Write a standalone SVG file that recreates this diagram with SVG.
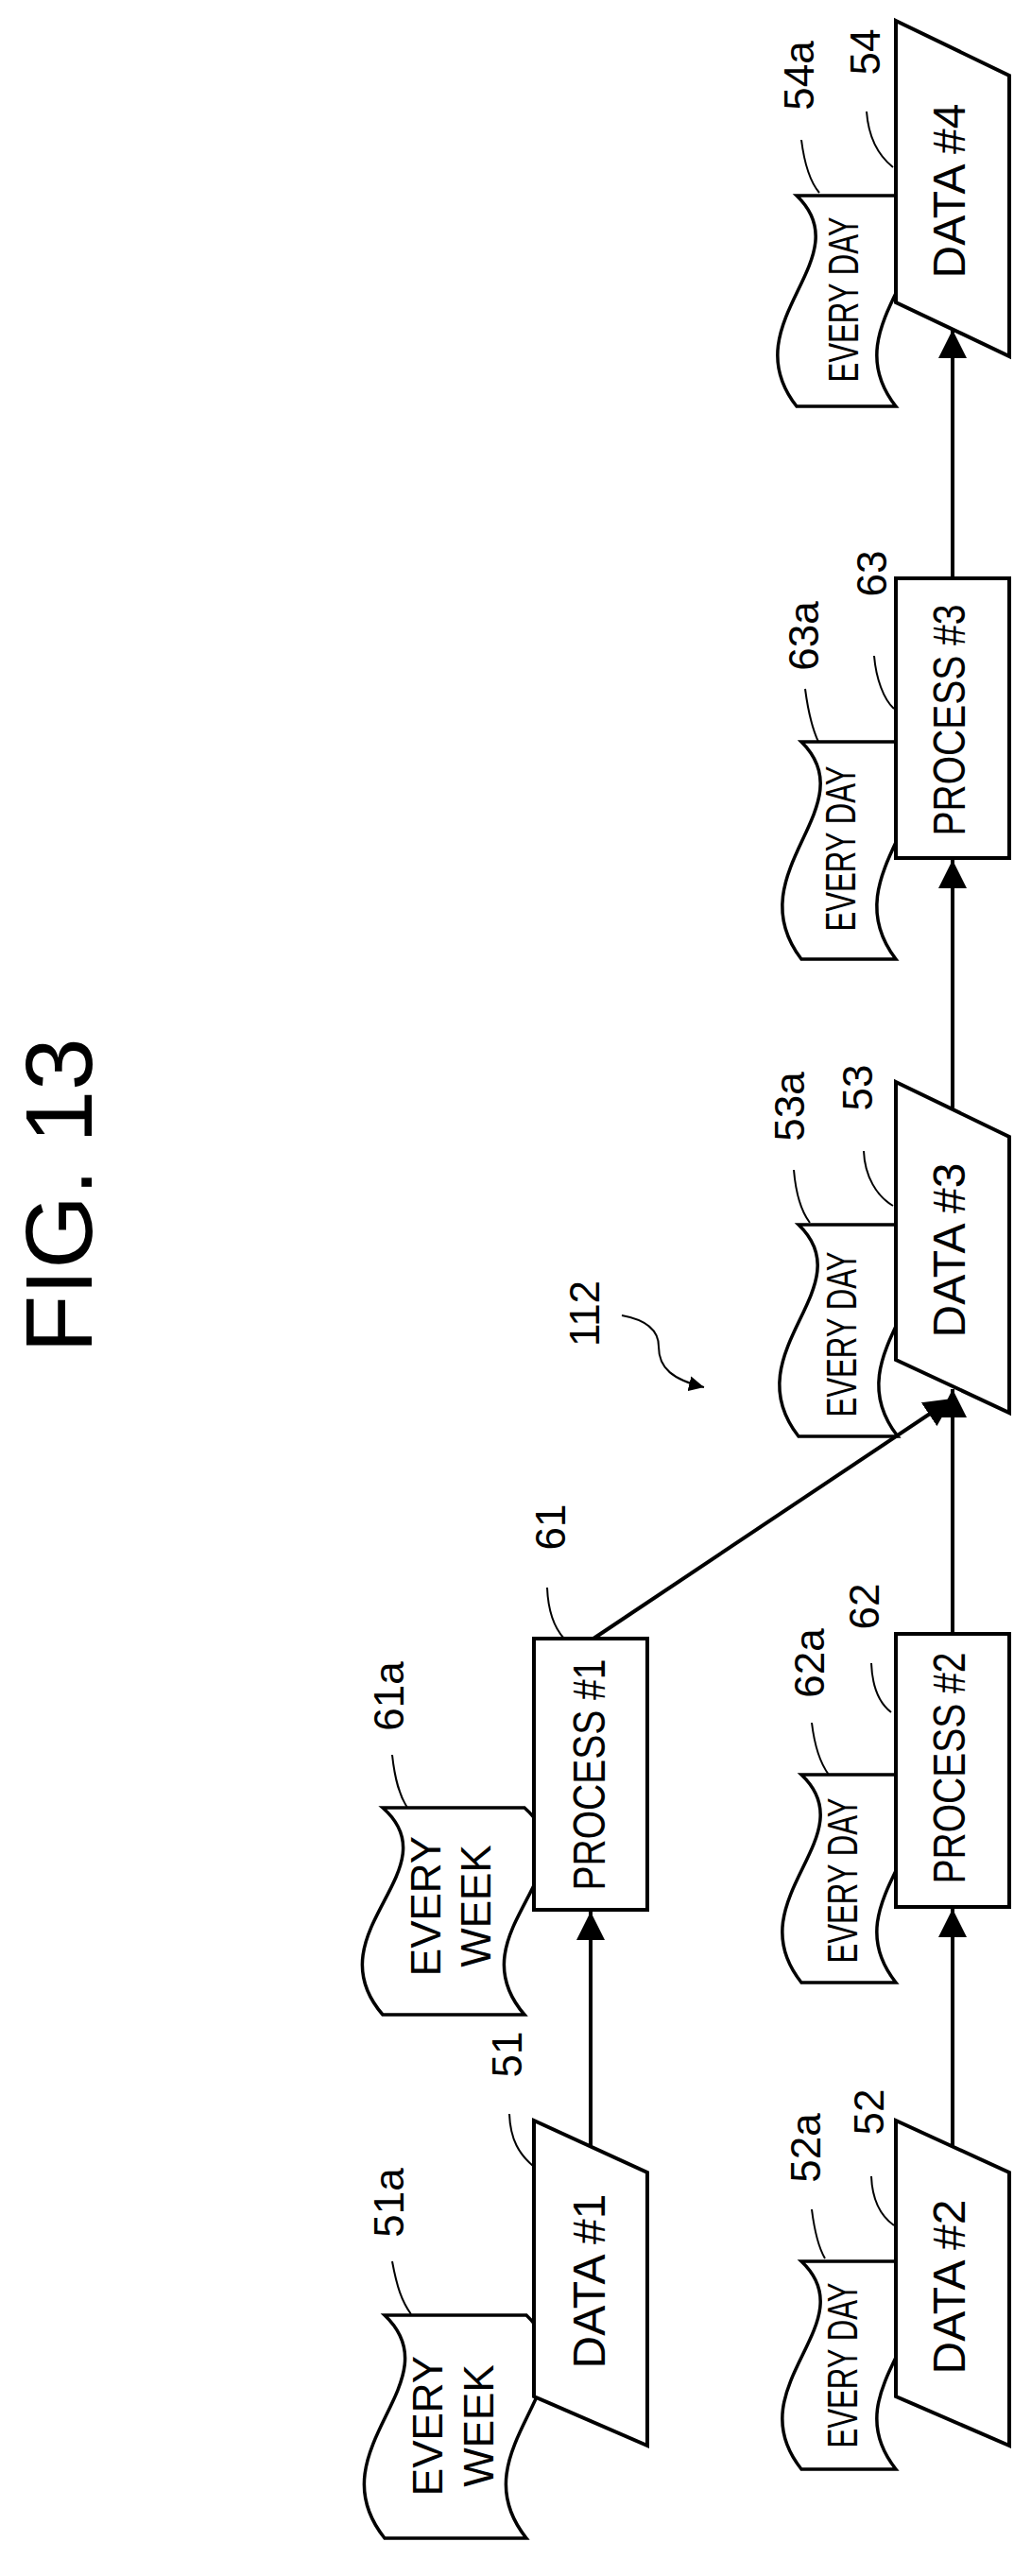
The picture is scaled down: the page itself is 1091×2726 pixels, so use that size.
<svg xmlns="http://www.w3.org/2000/svg" width="1091" height="2726" viewBox="0 0 1091 2726">
<style>
.s{fill:#fff;stroke:#000;stroke-width:4}
.w{fill:#fff;stroke:#000;stroke-width:3.5}
.c{fill:none;stroke:#000;stroke-width:4}
.l{fill:none;stroke:#000;stroke-width:2}
text{font-family:"Liberation Sans",Arial,sans-serif;fill:#000;text-anchor:middle;dominant-baseline:central}
.n{font-size:48px}
.e{font-size:44px}
.r{font-size:44px}
</style>
<defs>
<marker id="ah" markerUnits="userSpaceOnUse" markerWidth="32" markerHeight="30" refX="30" refY="15" orient="auto"><path d="M0,0 L30,15 L0,30 Z" fill="#000"/></marker>
<marker id="ah2" markerUnits="userSpaceOnUse" markerWidth="18" markerHeight="16" refX="16" refY="8" orient="auto"><path d="M0,0 L16,8 L0,16 Z" fill="#000"/></marker>
</defs>
<text transform="translate(62,1265) rotate(-90)" style="font-size:100px">FIG. 13</text>
<g id="connectors">
<line class="c" x1="625" y1="2271" x2="625" y2="2023" marker-end="url(#ah)"/>
<line class="c" x1="1008" y1="2271" x2="1008" y2="2020" marker-end="url(#ah)"/>
<line class="c" x1="628" y1="1734" x2="1008" y2="1480" marker-end="url(#ah)"/>
<line class="c" x1="1008" y1="1729" x2="1008" y2="1470" marker-end="url(#ah)"/>
<line class="c" x1="1008" y1="1174" x2="1008" y2="910" marker-end="url(#ah)"/>
<line class="c" x1="1008" y1="612" x2="1008" y2="349" marker-end="url(#ah)"/>
</g>
<g id="n51a"><path class="w" d="M407,2450 L557,2450 C632,2521 482,2592 557,2686 L407,2686 C332,2592 482,2521 407,2450 Z"/><text class="e" transform="translate(452,2567) rotate(-90)">EVERY</text><text class="e" transform="translate(506,2567) rotate(-90)">WEEK</text></g>
<g id="n51"><path class="s" d="M565,2244 L685,2299 L685,2588 L565,2536 Z"/><text class="n" transform="translate(623,2414) rotate(-90)">DATA #1</text></g>
<g id="n61a"><path class="w" d="M405,1913 L555,1913 C630,1979 480,2045 555,2132 L405,2132 C330,2045 480,1979 405,1913 Z"/><text class="e" transform="translate(450,2017) rotate(-90)">EVERY</text><text class="e" transform="translate(503,2017) rotate(-90)">WEEK</text></g>
<g id="n61"><rect class="s" x="565" y="1734" width="120" height="287"/><text class="n" transform="translate(623,1878) rotate(-90)" textLength="245" lengthAdjust="spacingAndGlyphs">PROCESS #1</text></g>
<g id="n52a"><path class="w" d="M848,2393 L948,2393 C1018,2459 878,2525 948,2613 L848,2613 C778,2525 918,2459 848,2393 Z"/><text class="e" transform="translate(891,2503) rotate(-90)" textLength="175" lengthAdjust="spacingAndGlyphs">EVERY DAY</text></g>
<g id="n52"><path class="s" d="M948,2244 L1068,2299 L1068,2588 L948,2536 Z"/><text class="n" transform="translate(1004,2420) rotate(-90)">DATA #2</text></g>
<g id="n62a"><path class="w" d="M848,1878 L948,1878 C1018,1944 878,2010 948,2098 L848,2098 C778,2010 918,1944 848,1878 Z"/><text class="e" transform="translate(891,1990) rotate(-90)" textLength="175" lengthAdjust="spacingAndGlyphs">EVERY DAY</text></g>
<g id="n62"><rect class="s" x="948" y="1729" width="120" height="289"/><text class="n" transform="translate(1004,1871) rotate(-90)" textLength="245" lengthAdjust="spacingAndGlyphs">PROCESS #2</text></g>
<g id="n53a"><path class="w" d="M845,1296 L950,1296 C1020,1363 880,1430 950,1520 L845,1520 C775,1430 915,1363 845,1296 Z"/><text class="e" transform="translate(890,1412) rotate(-90)" textLength="175" lengthAdjust="spacingAndGlyphs">EVERY DAY</text></g>
<g id="n53"><path class="s" d="M948,1145 L1068,1203 L1068,1495 L948,1439 Z"/><text class="n" transform="translate(1004,1323) rotate(-90)">DATA #3</text></g>
<g id="n63a"><path class="w" d="M848,785 L948,785 C1018,854 878,923 948,1015 L848,1015 C778,923 918,854 848,785 Z"/><text class="e" transform="translate(889,898) rotate(-90)" textLength="175" lengthAdjust="spacingAndGlyphs">EVERY DAY</text></g>
<g id="n63"><rect class="s" x="948" y="612" width="120" height="296"/><text class="n" transform="translate(1004,762) rotate(-90)" textLength="245" lengthAdjust="spacingAndGlyphs">PROCESS #3</text></g>
<g id="n54a"><path class="w" d="M843,207 L948,207 C1018,274 878,341 948,430 L843,430 C773,341 913,274 843,207 Z"/><text class="e" transform="translate(892,317) rotate(-90)" textLength="175" lengthAdjust="spacingAndGlyphs">EVERY DAY</text></g>
<g id="n54"><path class="s" d="M948,22 L1068,80 L1068,377 L948,320 Z"/><text class="n" transform="translate(1004,202) rotate(-90)">DATA #4</text></g>
<g id="labels">
<text class="r" transform="translate(411,2331) rotate(-90)">51a</text>
<path class="l" d="M415,2393 C420,2420 425,2435 435,2449"/>
<text class="r" transform="translate(536,2174) rotate(-90)">51</text>
<path class="l" d="M539,2237 C540,2265 550,2280 564,2292"/>
<text class="r" transform="translate(411,1795) rotate(-90)">61a</text>
<path class="l" d="M415,1857 C418,1885 423,1900 431,1913"/>
<text class="r" transform="translate(582,1616) rotate(-90)">61</text>
<path class="l" d="M579,1680 C580,1705 586,1722 597,1734"/>
<text class="r" transform="translate(852,2273) rotate(-90)">52a</text>
<path class="l" d="M859,2338 C862,2362 866,2378 873,2390"/>
<text class="r" transform="translate(919,2235) rotate(-90)">52</text>
<path class="l" d="M922,2303 C923,2328 932,2345 946,2355"/>
<text class="r" transform="translate(856,1760) rotate(-90)">62a</text>
<path class="l" d="M859,1823 C862,1848 868,1866 877,1878"/>
<text class="r" transform="translate(914,1700) rotate(-90)">62</text>
<path class="l" d="M922,1760 C923,1785 930,1802 943,1812"/>
<text class="r" transform="translate(835,1171) rotate(-90)">53a</text>
<path class="l" d="M840,1238 C842,1262 848,1282 857,1294"/>
<text class="r" transform="translate(907,1151) rotate(-90)">53</text>
<path class="l" d="M914,1218 C915,1245 928,1266 945,1276"/>
<text class="r" transform="translate(850,673) rotate(-90)">63a</text>
<path class="l" d="M852,729 C855,752 860,772 866,785"/>
<text class="r" transform="translate(922,607) rotate(-90)">63</text>
<path class="l" d="M925,694 C927,718 935,740 946,750"/>
<text class="r" transform="translate(845,80) rotate(-90)">54a</text>
<path class="l" d="M848,148 C851,172 857,192 867,204"/>
<text class="r" transform="translate(915,55) rotate(-90)">54</text>
<path class="l" d="M917,118 C919,145 930,165 945,177"/>
<text class="r" transform="translate(618,1390) rotate(-90)">112</text>
<path class="l" d="M658,1392 C680,1396 697,1405 697,1425 C697,1448 712,1460 745,1468" marker-end="url(#ah2)"/>
</g>
</svg>
